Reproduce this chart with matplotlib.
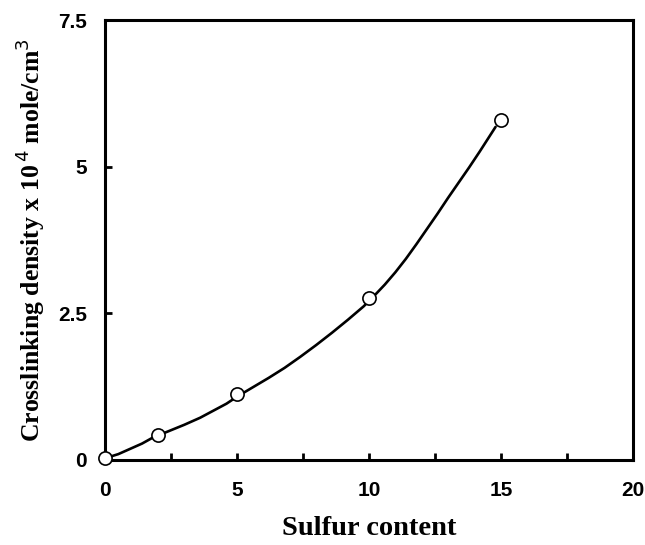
import numpy as np
import matplotlib.pyplot as plt
from matplotlib.ticker import MultipleLocator

# measured crosslinking density vs sulfur content
sulfur = [0, 2, 5, 10, 15]
density = [0.03, 0.42, 1.12, 2.77, 5.8]

# hand-drawn trend curve through the data
curve_x = [0, 0.5, 0.9, 1.4, 1.8, 2.4, 3.0, 3.6, 4.1, 4.6, 5.0, 5.6, 6.2, 6.8, 7.4, 8.0,
           8.6, 9.2, 9.8, 10.2, 10.6, 11.0, 11.4, 11.8, 12.2, 12.6, 13.0, 13.4, 13.8,
           14.2, 14.5, 14.8]
curve_y = [0.03, 0.1, 0.18, 0.28, 0.38, 0.49, 0.6, 0.72, 0.84, 0.96, 1.08, 1.24, 1.4,
           1.57, 1.76, 1.96, 2.17, 2.39, 2.62, 2.8, 2.99, 3.2, 3.43, 3.68, 3.94, 4.2,
           4.47, 4.73, 4.99, 5.26, 5.47, 5.68]

xticks = [0, 5, 10, 15, 20]
yticks = [0, 2.5, 5, 7.5]
ytick_labels = ['0', '2.5', '5', '7.5']

fig = plt.figure(figsize=(6.45, 5.45), dpi=100)
ax = fig.add_axes([0.163, 0.156, 0.818, 0.807])

ax.plot(curve_x, curve_y, color='black', lw=1.9, solid_capstyle='round',
        solid_joinstyle='round', zorder=2)
ax.plot(sulfur, density, 'o', ms=9.5, mfc='white', mec='black', mew=1.2, zorder=3, clip_on=False)

ax.set_xlim(0, 20)
ax.set_ylim(0, 7.5)
ax.set_xticks(xticks)
ax.xaxis.set_minor_locator(MultipleLocator(2.5))
ax.set_yticks(yticks)
ax.set_yticklabels(ytick_labels)

for s in ax.spines.values():
    s.set_linewidth(2.2)

ax.tick_params(which='both', direction='in', length=5, width=2)
ax.tick_params(axis='x', pad=15)
ax.tick_params(axis='y', pad=13)
for lab in ax.get_xticklabels() + ax.get_yticklabels():
    lab.set_fontfamily('Liberation Sans')
    lab.set_fontweight('bold')
    lab.set_fontsize(15)

plt.rcParams['mathtext.fontset'] = 'custom'
plt.rcParams['mathtext.rm'] = 'Liberation Serif:bold'
plt.rcParams['mathtext.bf'] = 'Liberation Serif:bold'

ax.set_xlabel('Sulfur content', fontfamily='Liberation Serif', fontweight='bold',
              fontsize=20.5, labelpad=12)
ax.set_ylabel(r'Crosslinking density x 10$^{\,\mathrm{4}}$ mole/cm$^{\mathrm{3}}$',
              fontfamily='Liberation Serif', fontweight='bold', fontsize=18.5, labelpad=8)

fig.savefig('out.png', dpi=100)
